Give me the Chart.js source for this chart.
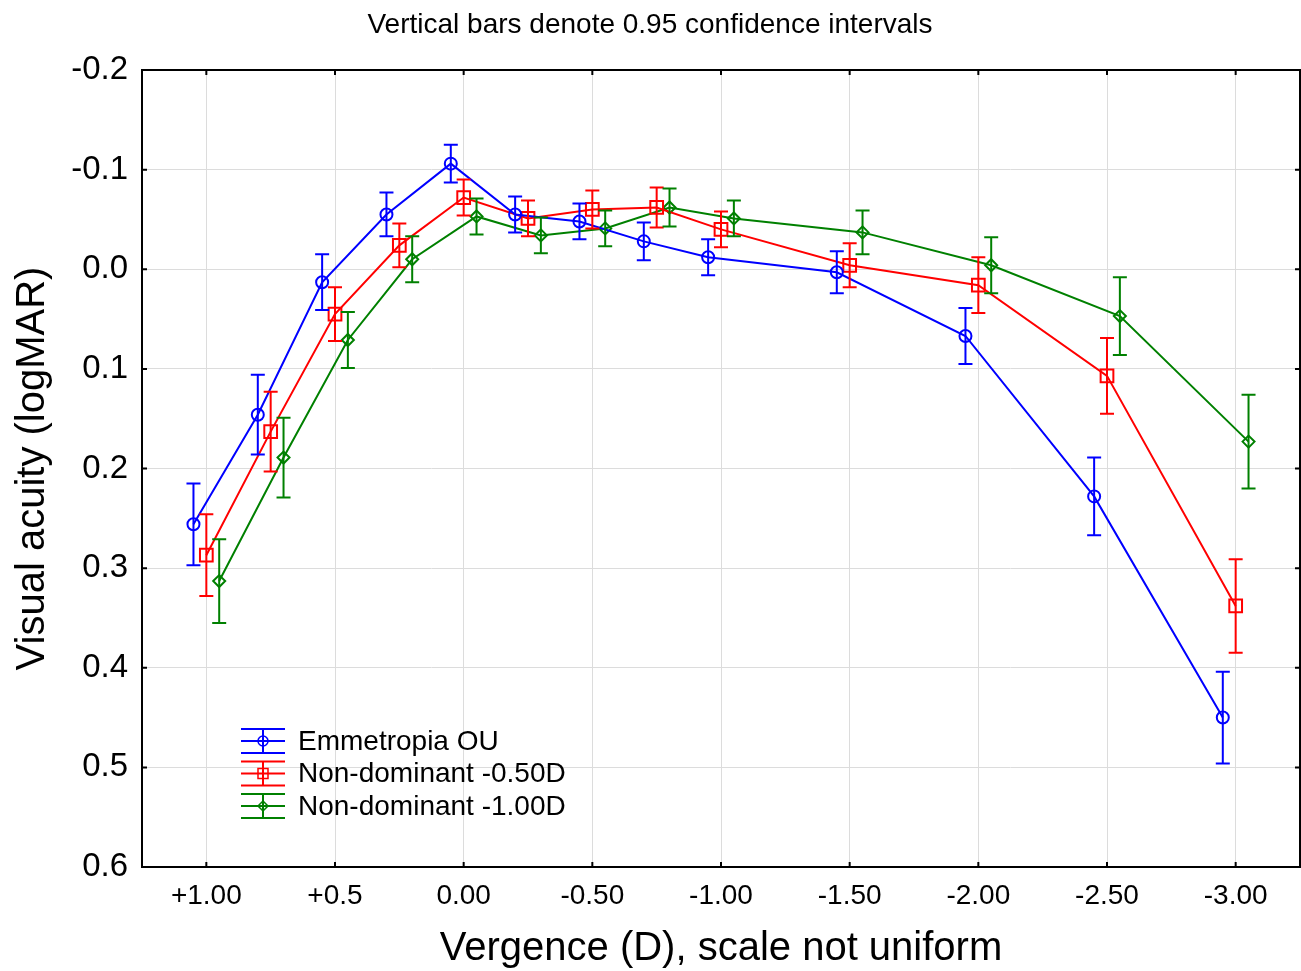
<!DOCTYPE html>
<html>
<head>
<meta charset="utf-8">
<script src="https://cdn.jsdelivr.net/npm/chart.js@4"></script>
<style>
  html, body { margin: 0; padding: 0; background: #fff; }
  #wrap { width: 1301px; height: 971px; }
</style>
</head>
<body>
<div id="wrap"><canvas id="chart" width="1301" height="971"></canvas></div>
<script>
// x positions (category units) and tick labels
const xSteps = [0, 0.5, 1, 1.5, 2, 2.5, 3, 3.5, 4, 5, 6, 7, 8];
const tickLabels = ['+1.00', '+0.5', '0.00', '-0.50', '-1.00', '-1.50', '-2.00', '-2.50', '-3.00'];

const seriesNames = ['Emmetropia OU', 'Non-dominant -0.50D', 'Non-dominant -1.00D'];
const seriesColors = ['#0000ff', '#ff0000', '#008000'];
const seriesShift = [-0.1, 0, 0.1];
const seriesMarkers = ['circle', 'rect', 'rectRot'];
const markerSizes = [6, 9, 6];

// means (logMAR) and 95% CI half-widths
const emmMean = [0.256, 0.146, 0.013, -0.055, -0.106, -0.055, -0.048, -0.028, -0.012, 0.003, 0.067, 0.228, 0.450];
const emmCI   = [0.041, 0.040, 0.028, 0.022, 0.019, 0.018, 0.018, 0.019, 0.018, 0.021, 0.028, 0.039, 0.046];
const nd050Mean = [0.287, 0.163, 0.045, -0.024, -0.072, -0.051, -0.060, -0.062, -0.040, -0.004, 0.016, 0.107, 0.338];
const nd050CI   = [0.041, 0.040, 0.027, 0.022, 0.018, 0.018, 0.019, 0.020, 0.018, 0.022, 0.028, 0.038, 0.047];
const nd100Mean = [0.313, 0.189, 0.071, -0.010, -0.053, -0.034, -0.041, -0.062, -0.051, -0.037, -0.004, 0.047, 0.173];
const nd100CI   = [0.042, 0.040, 0.028, 0.023, 0.018, 0.018, 0.018, 0.019, 0.018, 0.022, 0.028, 0.039, 0.047];

const means = [emmMean, nd050Mean, nd100Mean];
const cis = [emmCI, nd050CI, nd100CI];

const FONT = "'Liberation Sans', Arial, sans-serif";

const datasets = means.map((m, k) => ({
  label: seriesNames[k],
  data: m.map((v, i) => ({ x: xSteps[i] + seriesShift[k], y: v, ci: cis[k][i] })),
  borderColor: seriesColors[k],
  backgroundColor: '#ffffff',
  borderWidth: 2,
  pointStyle: seriesMarkers[k],
  pointRadius: markerSizes[k],
  pointBorderWidth: 2,
  pointBorderColor: seriesColors[k],
  pointBackgroundColor: 'rgba(255,255,255,0)',
  tension: 0,
}));

// error bars, frame with inward ticks, legend
const extras = {
  id: 'extras',
  afterDatasetsDraw(chart) {
    const { ctx, chartArea: a, scales: { x, y } } = chart;
    ctx.save();
    ctx.lineWidth = 2;
    chart.data.datasets.forEach((ds, k) => {
      ctx.strokeStyle = seriesColors[k];
      ds.data.forEach(p => {
        const px = x.getPixelForValue(p.x);
        const y1 = y.getPixelForValue(p.y - p.ci);
        const y2 = y.getPixelForValue(p.y + p.ci);
        ctx.beginPath();
        ctx.moveTo(px, y1); ctx.lineTo(px, y2);
        ctx.moveTo(px - 7, y1); ctx.lineTo(px + 7, y1);
        ctx.moveTo(px - 7, y2); ctx.lineTo(px + 7, y2);
        ctx.stroke();
      });
    });

    // frame
    ctx.strokeStyle = '#000';
    ctx.lineWidth = 2;
    ctx.strokeRect(a.left, a.top, a.right - a.left, a.bottom - a.top);
    ctx.beginPath();
    y.ticks.forEach(t => {
      const py = y.getPixelForValue(t.value);
      ctx.moveTo(a.left, py); ctx.lineTo(a.left + 5, py);
      ctx.moveTo(a.right, py); ctx.lineTo(a.right - 5, py);
    });
    x.ticks.forEach(t => {
      const px = x.getPixelForValue(t.value);
      ctx.moveTo(px, a.bottom); ctx.lineTo(px, a.bottom - 5);
      ctx.moveTo(px, a.top); ctx.lineTo(px, a.top + 5);
    });
    ctx.stroke();

    // legend
    ctx.font = '28px ' + FONT;
    ctx.textBaseline = 'middle';
    seriesNames.forEach((name, k) => {
      const ly = 741 + 32.5 * k;
      const lx = 263;
      ctx.strokeStyle = seriesColors[k];
      ctx.lineWidth = 2;
      ctx.beginPath();
      ctx.moveTo(lx - 22, ly - 12); ctx.lineTo(lx + 22, ly - 12);
      ctx.moveTo(lx - 22, ly); ctx.lineTo(lx + 22, ly);
      ctx.moveTo(lx - 22, ly + 12); ctx.lineTo(lx + 22, ly + 12);
      ctx.moveTo(lx, ly - 12); ctx.lineTo(lx, ly + 12);
      ctx.stroke();
      ctx.lineWidth = 1.5;
      ctx.beginPath();
      if (k === 0) {
        ctx.arc(lx, ly, 5, 0, Math.PI * 2);
      } else if (k === 1) {
        ctx.rect(lx - 5, ly - 5, 10, 10);
      } else {
        ctx.moveTo(lx - 5, ly); ctx.lineTo(lx, ly - 5); ctx.lineTo(lx + 5, ly); ctx.lineTo(lx, ly + 5); ctx.closePath();
      }
      ctx.stroke();
      ctx.fillStyle = '#000';
      ctx.fillText(name, 298, ly + 1);
    });
    ctx.restore();
  }
};

new Chart(document.getElementById('chart'), {
  type: 'line',
  data: { datasets },
  options: {
    responsive: false,
    animation: false,
    layout: { autoPadding: false, padding: { left: 0, right: 1, top: 0, bottom: 0 } },
    plugins: {
      legend: { display: false },
      tooltip: { enabled: false },
      title: {
        display: true,
        text: 'Vertical bars denote 0.95 confidence intervals',
        color: '#000',
        font: { family: FONT, size: 28, weight: 'normal', lineHeight: 1.1 },
        padding: { top: 9.6, bottom: 29.6 },
      },
    },
    scales: {
      x: {
        type: 'linear',
        min: -0.5,
        max: 8.5,
        afterBuildTicks: s => { s.ticks = tickLabels.map((_, i) => ({ value: i })); },
        afterFit: s => { s.height = 104; s.paddingLeft = 0; s.paddingRight = 0; },
        ticks: {
          callback: v => tickLabels[v],
          color: '#000',
          font: { family: FONT, size: 28 },
          padding: 12,
          maxRotation: 0,
          autoSkip: false,
        },
        grid: { color: '#dcdcdc', lineWidth: 1, drawTicks: false },
        border: { display: false },
        title: {
          display: true,
          text: 'Vergence (D), scale not uniform',
          color: '#000',
          font: { family: FONT, size: 40, lineHeight: 1.1 },
          padding: { top: 0, bottom: 0 },
        },
      },
      y: {
        reverse: true,
        min: -0.2,
        max: 0.6,
        afterFit: s => { s.width = 142; s.paddingTop = 0; s.paddingBottom = 0; },
        ticks: {
          stepSize: 0.1,
          callback: v => (Math.abs(v) < 1e-9 ? 0 : v).toFixed(1),
          color: '#000',
          font: { family: FONT, size: 33 },
          padding: 14,
        },
        grid: { color: '#dcdcdc', lineWidth: 1, drawTicks: false },
        border: { display: false },
        title: {
          display: true,
          text: 'Visual acuity (logMAR)',
          color: '#000',
          font: { family: FONT, size: 40 },
          padding: { top: 9, bottom: 0 },
        },
      },
    },
  },
  plugins: [extras],
});
</script>
</body>
</html>
